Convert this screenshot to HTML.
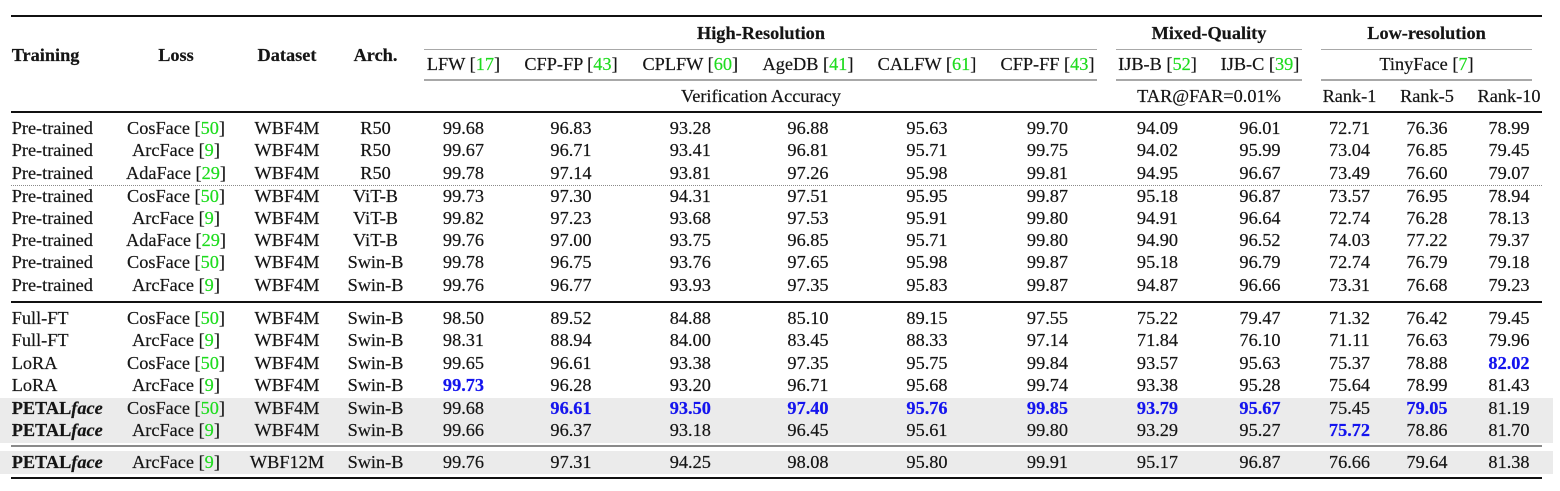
<!DOCTYPE html>
<html><head><meta charset="utf-8">
<style>
html,body{margin:0;padding:0;background:#fff;}
body{width:1560px;height:491px;position:relative;overflow:hidden;font-family:"Liberation Serif","Times New Roman",serif;font-size:18.3px;color:#151515;-webkit-text-stroke:0.2px currentColor;}
.r{position:absolute;left:0;height:0;width:1560px;}
.r span{position:absolute;top:0;transform:translate(-50%,-50%);white-space:nowrap;line-height:1;}
.r span.l{left:11.7px;transform:translateY(-50%);}
.r u{color:#1fdc1f;text-decoration:none;}
.r b{color:#1414ee;font-weight:bold;}
.r strong{font-weight:bold;}
.r strong em{font-style:italic;}
.h{font-weight:bold;}
.c1{left:176px}.c2{left:287px}.c3{left:375.5px}.c4{left:463.5px}.c5{left:571px}.c6{left:690.3px}.c7{left:808px}.c8{left:927px}.c9{left:1047.5px}.c10{left:1157.5px}.c11{left:1260px}.c12{left:1349.5px}.c13{left:1427px}.c14{left:1509px}
.rule{position:absolute;left:11.3px;width:1530.4px;background:#111;}
.cm{position:absolute;height:1.5px;background:#a8a8a8;}
.shade{position:absolute;left:0;width:1553px;background:#ebebeb;}
.dot{position:absolute;left:11.3px;width:1530.4px;height:0;border-top:1px dotted #8a8a8a;}
</style></head><body>

<div class="shade" style="top:397.5px;height:45px"></div>
<div class="shade" style="top:451px;height:22.5px"></div>

<div class="rule" style="top:15px;height:2px"></div>
<div class="rule" style="top:111px;height:2.2px"></div>
<div class="rule" style="top:301.3px;height:2px"></div>
<div class="rule" style="top:444.5px;height:2px;background:#8a8a8a"></div>
<div class="rule" style="top:477.3px;height:2px"></div>
<div class="dot" style="top:185px"></div>

<div class="cm" style="top:48.5px;left:424.3px;width:673px"></div>
<div class="cm" style="top:48.5px;left:1116px;width:186.3px"></div>
<div class="cm" style="top:48.5px;left:1321px;width:211.3px"></div>
<div class="cm" style="top:79px;left:424.3px;width:673px"></div>
<div class="cm" style="top:79px;left:1116px;width:186.3px"></div>
<div class="cm" style="top:79px;left:1321px;width:211.3px"></div>

<div class="r" style="top:33px">
<span class="h" style="left:761px">High-Resolution</span>
<span class="h" style="left:1209px">Mixed-Quality</span>
<span class="h" style="left:1426.5px">Low-resolution</span>
</div>
<div class="r" style="top:55px">
<span class="l h">Training</span>
<span class="c1 h">Loss</span>
<span class="c2 h">Dataset</span>
<span class="c3 h">Arch.</span>
</div>
<div class="r" style="top:64px">
<span class="c4">LFW [<u>17</u>]</span>
<span class="c5">CFP-FP [<u>43</u>]</span>
<span class="c6">CPLFW [<u>60</u>]</span>
<span class="c7">AgeDB [<u>41</u>]</span>
<span class="c8">CALFW [<u>61</u>]</span>
<span class="c9">CFP-FF [<u>43</u>]</span>
<span class="c10">IJB-B [<u>52</u>]</span>
<span class="c11">IJB-C [<u>39</u>]</span>
<span style="left:1426.5px">TinyFace [<u>7</u>]</span>
</div>
<div class="r" style="top:96px">
<span style="left:761px">Verification Accuracy</span>
<span style="left:1209px">TAR@FAR=0.01%</span>
<span class="c12">Rank-1</span>
<span class="c13">Rank-5</span>
<span class="c14">Rank-10</span>
</div>

<div class="r" style="top:128px"><span class="l">Pre-trained</span><span class="c1">CosFace [<u>50</u>]</span><span class="c2">WBF4M</span><span class="c3">R50</span><span class="c4">99.68</span><span class="c5">96.83</span><span class="c6">93.28</span><span class="c7">96.88</span><span class="c8">95.63</span><span class="c9">99.70</span><span class="c10">94.09</span><span class="c11">96.01</span><span class="c12">72.71</span><span class="c13">76.36</span><span class="c14">78.99</span></div>
<div class="r" style="top:150.4px"><span class="l">Pre-trained</span><span class="c1">ArcFace [<u>9</u>]</span><span class="c2">WBF4M</span><span class="c3">R50</span><span class="c4">99.67</span><span class="c5">96.71</span><span class="c6">93.41</span><span class="c7">96.81</span><span class="c8">95.71</span><span class="c9">99.75</span><span class="c10">94.02</span><span class="c11">95.99</span><span class="c12">73.04</span><span class="c13">76.85</span><span class="c14">79.45</span></div>
<div class="r" style="top:172.8px"><span class="l">Pre-trained</span><span class="c1">AdaFace [<u>29</u>]</span><span class="c2">WBF4M</span><span class="c3">R50</span><span class="c4">99.78</span><span class="c5">97.14</span><span class="c6">93.81</span><span class="c7">97.26</span><span class="c8">95.98</span><span class="c9">99.81</span><span class="c10">94.95</span><span class="c11">96.67</span><span class="c12">73.49</span><span class="c13">76.60</span><span class="c14">79.07</span></div>
<div class="r" style="top:195.6px"><span class="l">Pre-trained</span><span class="c1">CosFace [<u>50</u>]</span><span class="c2">WBF4M</span><span class="c3">ViT-B</span><span class="c4">99.73</span><span class="c5">97.30</span><span class="c6">94.31</span><span class="c7">97.51</span><span class="c8">95.95</span><span class="c9">99.87</span><span class="c10">95.18</span><span class="c11">96.87</span><span class="c12">73.57</span><span class="c13">76.95</span><span class="c14">78.94</span></div>
<div class="r" style="top:217.9px"><span class="l">Pre-trained</span><span class="c1">ArcFace [<u>9</u>]</span><span class="c2">WBF4M</span><span class="c3">ViT-B</span><span class="c4">99.82</span><span class="c5">97.23</span><span class="c6">93.68</span><span class="c7">97.53</span><span class="c8">95.91</span><span class="c9">99.80</span><span class="c10">94.91</span><span class="c11">96.64</span><span class="c12">72.74</span><span class="c13">76.28</span><span class="c14">78.13</span></div>
<div class="r" style="top:240.1px"><span class="l">Pre-trained</span><span class="c1">AdaFace [<u>29</u>]</span><span class="c2">WBF4M</span><span class="c3">ViT-B</span><span class="c4">99.76</span><span class="c5">97.00</span><span class="c6">93.75</span><span class="c7">96.85</span><span class="c8">95.71</span><span class="c9">99.80</span><span class="c10">94.90</span><span class="c11">96.52</span><span class="c12">74.03</span><span class="c13">77.22</span><span class="c14">79.37</span></div>
<div class="r" style="top:262.3px"><span class="l">Pre-trained</span><span class="c1">CosFace [<u>50</u>]</span><span class="c2">WBF4M</span><span class="c3">Swin-B</span><span class="c4">99.78</span><span class="c5">96.75</span><span class="c6">93.76</span><span class="c7">97.65</span><span class="c8">95.98</span><span class="c9">99.87</span><span class="c10">95.18</span><span class="c11">96.79</span><span class="c12">72.74</span><span class="c13">76.79</span><span class="c14">79.18</span></div>
<div class="r" style="top:284.7px"><span class="l">Pre-trained</span><span class="c1">ArcFace [<u>9</u>]</span><span class="c2">WBF4M</span><span class="c3">Swin-B</span><span class="c4">99.76</span><span class="c5">96.77</span><span class="c6">93.93</span><span class="c7">97.35</span><span class="c8">95.83</span><span class="c9">99.87</span><span class="c10">94.87</span><span class="c11">96.66</span><span class="c12">73.31</span><span class="c13">76.68</span><span class="c14">79.23</span></div>

<div class="r" style="top:318.2px"><span class="l">Full-FT</span><span class="c1">CosFace [<u>50</u>]</span><span class="c2">WBF4M</span><span class="c3">Swin-B</span><span class="c4">98.50</span><span class="c5">89.52</span><span class="c6">84.88</span><span class="c7">85.10</span><span class="c8">89.15</span><span class="c9">97.55</span><span class="c10">75.22</span><span class="c11">79.47</span><span class="c12">71.32</span><span class="c13">76.42</span><span class="c14">79.45</span></div>
<div class="r" style="top:340.4px"><span class="l">Full-FT</span><span class="c1">ArcFace [<u>9</u>]</span><span class="c2">WBF4M</span><span class="c3">Swin-B</span><span class="c4">98.31</span><span class="c5">88.94</span><span class="c6">84.00</span><span class="c7">83.45</span><span class="c8">88.33</span><span class="c9">97.14</span><span class="c10">71.84</span><span class="c11">76.10</span><span class="c12">71.11</span><span class="c13">76.63</span><span class="c14">79.96</span></div>
<div class="r" style="top:362.7px"><span class="l">LoRA</span><span class="c1">CosFace [<u>50</u>]</span><span class="c2">WBF4M</span><span class="c3">Swin-B</span><span class="c4">99.65</span><span class="c5">96.61</span><span class="c6">93.38</span><span class="c7">97.35</span><span class="c8">95.75</span><span class="c9">99.84</span><span class="c10">93.57</span><span class="c11">95.63</span><span class="c12">75.37</span><span class="c13">78.88</span><span class="c14"><b>82.02</b></span></div>
<div class="r" style="top:385.2px"><span class="l">LoRA</span><span class="c1">ArcFace [<u>9</u>]</span><span class="c2">WBF4M</span><span class="c3">Swin-B</span><span class="c4"><b>99.73</b></span><span class="c5">96.28</span><span class="c6">93.20</span><span class="c7">96.71</span><span class="c8">95.68</span><span class="c9">99.74</span><span class="c10">93.38</span><span class="c11">95.28</span><span class="c12">75.64</span><span class="c13">78.99</span><span class="c14">81.43</span></div>
<div class="r" style="top:407.5px"><span class="l"><strong>PETAL<em>face</em></strong></span><span class="c1">CosFace [<u>50</u>]</span><span class="c2">WBF4M</span><span class="c3">Swin-B</span><span class="c4">99.68</span><span class="c5"><b>96.61</b></span><span class="c6"><b>93.50</b></span><span class="c7"><b>97.40</b></span><span class="c8"><b>95.76</b></span><span class="c9"><b>99.85</b></span><span class="c10"><b>93.79</b></span><span class="c11"><b>95.67</b></span><span class="c12">75.45</span><span class="c13"><b>79.05</b></span><span class="c14">81.19</span></div>
<div class="r" style="top:430px"><span class="l"><strong>PETAL<em>face</em></strong></span><span class="c1">ArcFace [<u>9</u>]</span><span class="c2">WBF4M</span><span class="c3">Swin-B</span><span class="c4">99.66</span><span class="c5">96.37</span><span class="c6">93.18</span><span class="c7">96.45</span><span class="c8">95.61</span><span class="c9">99.80</span><span class="c10">93.29</span><span class="c11">95.27</span><span class="c12"><b>75.72</b></span><span class="c13">78.86</span><span class="c14">81.70</span></div>

<div class="r" style="top:461.8px"><span class="l"><strong>PETAL<em>face</em></strong></span><span class="c1">ArcFace [<u>9</u>]</span><span class="c2">WBF12M</span><span class="c3">Swin-B</span><span class="c4">99.76</span><span class="c5">97.31</span><span class="c6">94.25</span><span class="c7">98.08</span><span class="c8">95.80</span><span class="c9">99.91</span><span class="c10">95.17</span><span class="c11">96.87</span><span class="c12">76.66</span><span class="c13">79.64</span><span class="c14">81.38</span></div>

</body></html>
